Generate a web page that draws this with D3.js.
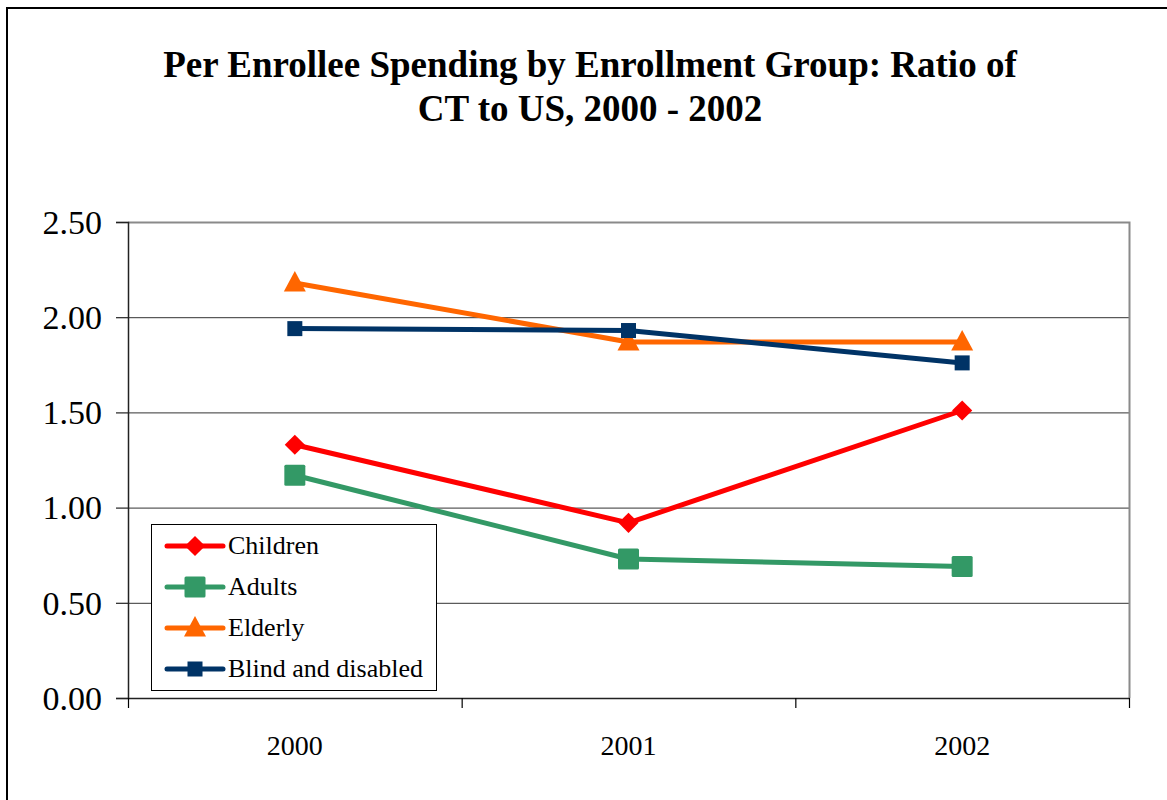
<!DOCTYPE html>
<html>
<head>
<meta charset="utf-8">
<script src="https://cdn.jsdelivr.net/npm/d3@7"></script>
<style>
  body { margin: 0; background: #fff; }
  svg { display: block; }
  svg text { font-family: "Liberation Serif", Tinos, "DejaVu Serif", Times, serif; }
</style>
</head>
<body>
<div id="chart"></div>
<script>
// Chart data
const years = ['2000', '2001', '2002'];
const children = [1.33, 0.92, 1.51];
const adults = [1.17, 0.73, 0.69];
const elderly = [2.18, 1.87, 1.87];
const blindDisabled = [1.94, 1.93, 1.76];
const yTicks = [0, 0.5, 1.0, 1.5, 2.0, 2.5];

const series = [
    {name: 'Children', values: children, color: '#FF0000', shape: 'diamond'},
    {name: 'Adults', values: adults, color: '#339966', shape: 'bigsquare'},
    {name: 'Elderly', values: elderly, color: '#FF6600', shape: 'triangle'},
    {name: 'Blind and disabled', values: blindDisabled, color: '#003366', shape: 'square'}
];

const width = 1167, height = 800;
const margin = {top: 222, right: 38, bottom: 102, left: 128};
const innerWidth = width - margin.left - margin.right;
const innerHeight = height - margin.top - margin.bottom;

const svg = d3.select('#chart')
    .append('svg')
    .attr('width', width)
    .attr('height', height);

// outer frame (right and bottom edges run off the page)
svg.append('path')
    .attr('d', `M7,${height}V8H${width}`)
    .attr('fill', 'none')
    .attr('stroke', '#000')
    .attr('stroke-width', 2);

// title
const title = svg.append('text')
    .attr('text-anchor', 'middle')
    .attr('font-weight', 'bold')
    .attr('font-size', '37px')
    .attr('fill', '#000');
title.append('tspan').attr('x', 590).attr('y', 77)
    .text('Per Enrollee Spending by Enrollment Group: Ratio of');
title.append('tspan').attr('x', 590).attr('y', 121)
    .text('CT to US, 2000 - 2002');

const g = svg.append('g')
    .attr('transform', `translate(${margin.left}, ${margin.top})`);

// scales
const xScale = d3.scaleBand()
    .domain(years)
    .range([0, innerWidth]);

const yScale = d3.scaleLinear()
    .domain([0, 2.5])
    .range([innerHeight, 0]);

const xPos = d => xScale(d) + xScale.bandwidth() / 2;

// grid lines
g.selectAll('.grid-line')
    .data(yTicks.filter(d => d > 0 && d < 2.5))
    .enter()
    .append('line')
    .attr('class', 'grid-line')
    .attr('x1', 0)
    .attr('x2', innerWidth)
    .attr('y1', d => yScale(d) + 0.5)
    .attr('y2', d => yScale(d) + 0.5)
    .attr('stroke', '#333')
    .attr('stroke-width', 1);

// plot border top/right
g.append('path')
    .attr('d', `M0,${yScale(2.5) + 0.5}H${innerWidth + 0.5}V${innerHeight}`)
    .attr('fill', 'none')
    .attr('stroke', '#8a8a8a')
    .attr('stroke-width', 2);

// Y axis
const yAxis = g.append('g')
    .attr('class', 'y-axis')
    .call(d3.axisLeft(yScale)
        .tickValues(yTicks)
        .tickFormat(d3.format('.2f'))
        .tickSizeOuter(0)
        .tickSize(12)
        .tickPadding(14));

// X axis
const xAxis = g.append('g')
    .attr('class', 'x-axis')
    .attr('transform', `translate(0, ${innerHeight})`)
    .call(d3.axisBottom(xScale)
        .tickSize(0));

// category boundary ticks on x axis
g.selectAll('.x-boundary')
    .data(years.map(d => xScale(d)).concat([innerWidth]))
    .enter()
    .append('line')
    .attr('class', 'x-boundary')
    .attr('x1', d => d + 0.5)
    .attr('x2', d => d + 0.5)
    .attr('y1', innerHeight)
    .attr('y2', innerHeight + 10)
    .attr('stroke', '#000')
    .attr('stroke-width', 1.2);

g.selectAll('.domain')
    .attr('stroke', '#222')
    .attr('stroke-width', 1.5);
g.selectAll('.tick line')
    .attr('stroke', '#222')
    .attr('stroke-width', 1.2);
yAxis.attr('font-family', null);
xAxis.attr('font-family', null);
yAxis.selectAll('.tick text')
    .attr('font-size', '34px')
    .attr('dy', '0.33em')
    .attr('fill', '#000');
xAxis.selectAll('.tick text')
    .attr('font-size', '28px')
    .attr('y', 57)
    .attr('dy', null)
    .attr('fill', '#000');

// markers
function drawMarker(sel, shape, color) {
    if (shape === 'diamond') {
        sel.append('path')
            .attr('d', d3.symbol().type(d3.symbolDiamond2).size(260)())
            .attr('fill', color);
    } else if (shape === 'bigsquare') {
        sel.append('rect')
            .attr('x', -10.5).attr('y', -10.5)
            .attr('width', 21).attr('height', 21)
            .attr('rx', 1.5)
            .attr('fill', color);
    } else if (shape === 'triangle') {
        sel.append('path')
            .attr('d', 'M0,-12L11,8.5L-11,8.5Z')
            .attr('fill', color);
    } else {
        sel.append('rect')
            .attr('x', -7.5).attr('y', -7.5)
            .attr('width', 15).attr('height', 15)
            .attr('fill', color);
    }
}

const line = d3.line()
    .x((d, i) => xPos(years[i]))
    .y(d => yScale(d));

series.forEach(s => {
    g.append('path')
        .datum(s.values)
        .attr('d', line)
        .attr('fill', 'none')
        .attr('stroke', s.color)
        .attr('stroke-width', 5)
        .attr('stroke-linejoin', 'round');
});

series.forEach(s => {
    s.values.forEach((v, i) => {
        const m = g.append('g')
            .attr('transform', `translate(${xPos(years[i])}, ${yScale(v)})`);
        drawMarker(m, s.shape, s.color);
    });
});

// legend
const legend = svg.append('g')
    .attr('transform', 'translate(151, 524)');

legend.append('rect')
    .attr('x', 0.5).attr('y', 0.5)
    .attr('width', 285).attr('height', 166)
    .attr('fill', '#fff')
    .attr('stroke', '#000')
    .attr('stroke-width', 1);

series.forEach((s, i) => {
    const row = legend.append('g')
        .attr('transform', `translate(0, ${22 + i * 41})`);
    row.append('line')
        .attr('x1', 16).attr('x2', 72)
        .attr('y1', 0).attr('y2', 0)
        .attr('stroke', s.color)
        .attr('stroke-width', 5)
        .attr('stroke-linecap', 'round');
    const m = row.append('g').attr('transform', 'translate(44, 0)');
    drawMarker(m, s.shape, s.color);
    row.append('text')
        .attr('x', 77)
        .attr('y', 8)
        .attr('font-size', '26px')
        .attr('fill', '#000')
        .text(s.name);
});
</script>
</body>
</html>
